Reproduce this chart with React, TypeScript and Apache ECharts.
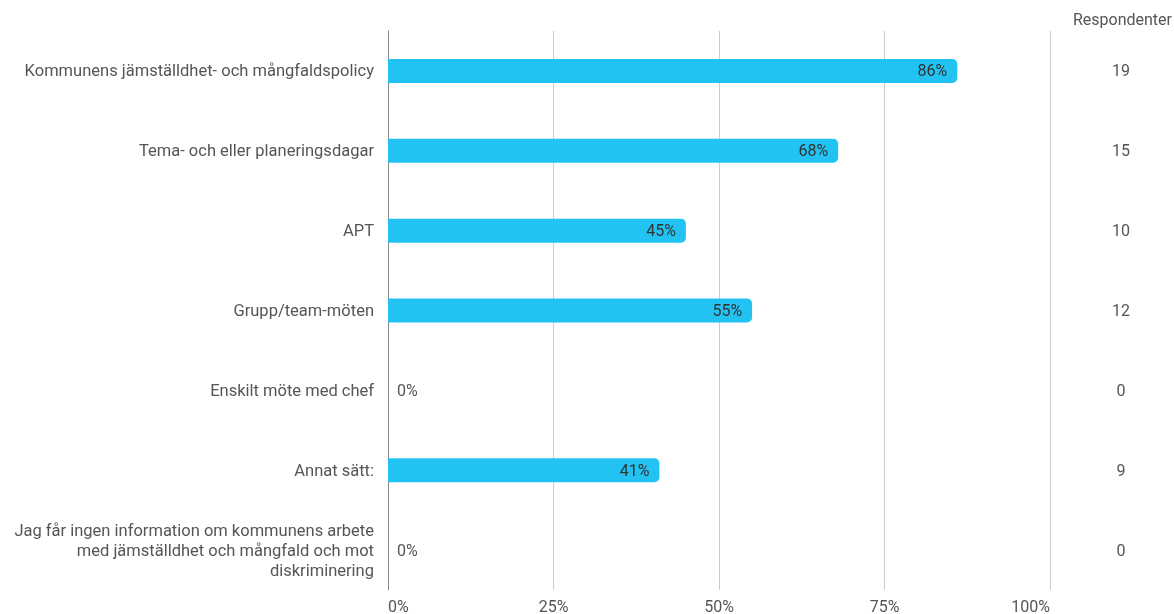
import React, { useEffect, useRef } from "react";
import * as echarts from "echarts";

const categories = [
  "Kommunens jämställdhet- och mångfaldspolicy",
  "Tema- och eller planeringsdagar",
  "APT",
  "Grupp/team-möten",
  "Enskilt möte med chef",
  "Annat sätt:",
  "Jag får ingen information om kommunens arbete\nmed jämställdhet och mångfald och mot\ndiskriminering",
];
const percentages = [86, 68, 45, 55, 0, 41, 0];
const respondents = [19, 15, 10, 12, 0, 9, 0];
const xTicks = [0, 25, 50, 75, 100];
const rightHeader = "Respondenter";

export default function App() {
  const ref = useRef<HTMLDivElement>(null);
  useEffect(() => {
    if (!ref.current) return;
    const chart = echarts.init(ref.current, null, { renderer: "svg" });
    const font = "Roboto, 'Noto Sans', sans-serif";
    const fs = 16;
    chart.setOption({
      animation: false,
      textStyle: { fontFamily: font },
      grid: { left: 388, right: 124, top: 31, bottom: 23, containLabel: false },
      graphic: [
        {
          type: "text",
          right: 2,
          top: 11,
          style: { text: rightHeader, fill: "#555", font: `${fs}px ${font}` },
        },
      ],
      xAxis: {
        type: "value",
        min: 0,
        max: xTicks[xTicks.length - 1],
        interval: 25,
        axisLine: { show: false },
        axisTick: { show: false },
        splitLine: { show: true, lineStyle: { color: "#cccccc", width: 1 } },
        axisLabel: {
          formatter: (v: number) => `${v}%`,
          color: "#555",
          fontSize: fs,
          fontFamily: font,
          margin: 8,
          alignMinLabel: "left",
          alignMaxLabel: "right",
        },
      },
      yAxis: [
        {
          type: "category",
          data: categories,
          inverse: true,
          axisLine: { show: true, lineStyle: { color: "#888", width: 1 } },
          axisTick: { show: false },
          axisLabel: {
            color: "#555",
            fontSize: 16.5,
            fontFamily: font,
            margin: 14,
            lineHeight: 20,
            align: "right",
          },
        },
        {
          type: "category",
          data: respondents.map(String),
          inverse: true,
          position: "right",
          axisLine: { show: false },
          axisTick: { show: false },
          axisLabel: {
            color: "#555",
            fontSize: fs,
            fontFamily: font,
            margin: 71,
            align: "center",
          },
        },
      ],
      series: [
        {
          type: "bar",
          yAxisIndex: 0,
          barWidth: 24,
          itemStyle: { color: "#22c3f3", borderRadius: [0, 5, 5, 0] },
          data: percentages.map((p) => ({
            value: p,
            label: {
              show: true,
              position: p === 0 ? "right" : "insideRight",
              distance: p === 0 ? 9 : 10,
              formatter: `${p}%`,
              color: p === 0 ? "#555" : "#333",
              fontSize: fs,
              fontFamily: font,
            },
          })),
        },
      ],
    });
    return () => chart.dispose();
  }, []);
  return (
    <div
      ref={ref}
      style={{ position: "fixed", left: 0, top: 0, width: 1174, height: 614 }}
    />
  );
}
